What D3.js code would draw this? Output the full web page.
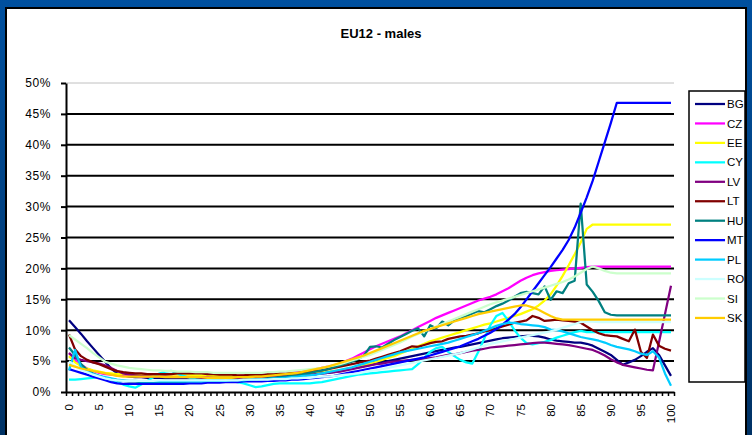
<html>
<head>
<meta charset="utf-8">
<script src="https://cdn.jsdelivr.net/npm/d3@7"></script>
<style>
body { margin: 0; }
text { font-family: "Liberation Sans", Arial, sans-serif; }
</style>
</head>
<body>
<script>

// ages 0..100 on the category axis
var ages = d3.range(0, 101);

var names = ["BG", "CZ", "EE", "CY", "LV", "LT", "HU", "MT", "PL", "RO", "SI", "SK"];
var colors = ["#000080", "#FF00FF", "#FFFF00", "#00FFFF", "#800080", "#800000",
              "#008080", "#0000FF", "#00CCFF", "#CCFFFF", "#CCFFCC", "#FFCC00"];

// values in %, one per age
var bg = [11.6,10.5,9.4,8.2,7.1,6.0,4.9,3.8,3.0,2.7,2.5,
  2.4,2.4,2.3,2.3,2.3,2.2,2.2,2.2,2.2,2.2,
  2.2,2.2,2.2,2.2,2.2,2.3,2.3,2.3,2.3,2.4,
  2.4,2.4,2.5,2.5,2.5,2.6,2.6,2.7,2.7,2.8,
  2.9,3.0,3.1,3.2,3.4,3.6,3.8,4.0,4.2,4.4,
  4.6,4.8,5.0,5.2,5.4,5.6,5.8,6.0,6.2,6.4,
  6.6,6.8,7.0,7.2,7.3,7.5,7.7,7.9,8.1,8.3,
  8.5,8.7,8.8,8.9,9.0,9.1,9.1,9.0,8.8,8.5,
  8.3,8.2,8.1,8.0,8.0,7.8,7.5,7.0,6.5,6.0,
  5.2,4.4,4.8,5.2,5.8,6.5,7.1,6.0,4.3,2.6];

var cz = [6.3,5.2,4.4,3.8,3.4,3.1,2.9,2.8,2.7,2.6,2.6,
  2.6,2.5,2.5,2.5,2.5,2.5,2.5,2.5,2.5,2.5,
  2.5,2.5,2.5,2.5,2.5,2.6,2.6,2.6,2.7,2.7,
  2.8,2.8,2.9,3.0,3.0,3.1,3.2,3.3,3.4,3.5,
  3.7,3.9,4.1,4.3,4.6,5.0,5.4,5.9,6.4,6.9,
  7.4,7.8,8.2,8.6,9.0,9.5,10.0,10.5,11.0,11.5,
  12.0,12.4,12.8,13.2,13.6,14.0,14.4,14.8,15.1,15.4,
  15.8,16.3,16.8,17.4,18.0,18.5,18.9,19.2,19.4,19.6,
  19.7,19.8,19.9,20.0,20.1,20.2,20.3,20.3,20.3,20.3,
  20.3,20.3,20.3,20.3,20.3,20.3,20.3,20.3,20.3,20.3];

var ee = [5.8,4.8,4.2,3.8,3.5,3.3,3.1,3.0,2.9,2.9,2.9,
  2.9,2.9,2.8,2.8,2.8,2.8,2.8,2.8,2.8,2.8,
  2.7,2.7,2.7,2.6,2.6,2.6,2.6,2.6,2.6,2.6,
  2.6,2.6,2.7,2.7,2.7,2.8,2.8,2.9,3.0,3.0,
  3.1,3.2,3.3,3.4,3.5,3.7,3.9,4.1,4.3,4.6,
  4.9,5.2,5.5,5.8,6.2,6.6,7.0,7.4,7.8,8.2,
  8.5,8.8,9.1,9.4,9.7,10.0,10.3,10.6,10.9,11.1,
  11.4,11.7,12.0,12.3,12.6,13.0,13.4,14.0,14.8,15.8,
  17.2,18.8,20.5,22.3,24.2,26.4,27.1,27.1,27.1,27.1,
  27.1,27.1,27.1,27.1,27.1,27.1,27.1,27.1,27.1,27.1];

var cy = [2.0,2.0,2.1,2.2,2.3,2.5,2.3,2.0,1.6,1.2,0.9,
  0.7,1.2,1.8,2.4,3.0,3.3,3.4,3.0,2.6,2.3,
  2.1,2.0,2.0,2.0,1.9,1.8,1.7,1.6,1.4,1.1,
  0.8,0.9,1.1,1.3,1.4,1.4,1.4,1.4,1.4,1.4,
  1.5,1.6,1.8,2.0,2.2,2.4,2.6,2.8,2.9,3.0,
  3.1,3.2,3.3,3.4,3.5,3.6,3.7,4.5,5.5,6.5,
  7.1,7.3,6.5,5.8,5.2,4.8,4.6,6.5,8.7,10.8,
  12.3,12.8,11.5,10.0,8.8,7.9,7.7,7.9,8.1,8.4,
  8.8,9.1,9.4,9.7,9.9,9.7,9.7,9.7,9.7,9.7,
  9.7,9.7,9.7,9.7,9.7,9.7,9.7,9.7,9.7,9.7];

var lv = [6.3,5.5,5.2,5.0,4.8,4.6,4.3,3.9,3.4,3.0,2.8,
  2.7,2.6,2.6,2.5,2.5,2.5,2.4,2.4,2.4,2.4,
  2.4,2.3,2.3,2.3,2.3,2.3,2.3,2.3,2.3,2.4,
  2.4,2.4,2.5,2.5,2.5,2.6,2.6,2.7,2.7,2.8,
  2.9,3.0,3.1,3.2,3.3,3.5,3.7,3.9,4.1,4.3,
  4.5,4.6,4.8,4.9,5.0,5.1,5.2,5.3,5.4,5.5,
  5.6,5.8,6.0,6.1,6.3,6.5,6.7,6.8,7.0,7.2,
  7.3,7.4,7.5,7.6,7.7,7.8,7.9,8.0,8.0,7.9,
  7.8,7.7,7.6,7.4,7.2,7.0,6.8,6.4,5.9,5.3,
  4.8,4.4,4.2,4.0,3.8,3.6,3.5,8.0,12.6,17.2];

var lt = [9.3,6.9,5.8,5.2,4.8,4.5,4.1,3.7,3.4,3.2,3.1,
  3.0,3.0,2.9,2.9,2.9,2.9,2.9,3.0,3.0,3.0,
  3.0,3.0,2.9,2.9,2.8,2.8,2.8,2.7,2.7,2.8,
  2.8,2.8,2.9,2.9,3.0,3.0,3.1,3.1,3.2,3.3,
  3.4,3.5,3.7,3.9,4.1,4.3,4.5,4.7,4.9,5.1,
  5.4,5.7,6.0,6.3,6.6,7.0,7.4,7.3,7.6,7.9,
  8.1,8.2,8.6,8.8,9.0,9.1,9.3,9.5,9.8,10.0,
  10.3,10.6,10.9,11.2,11.4,11.6,12.3,12.0,11.5,11.6,
  11.7,11.6,11.5,11.4,11.2,10.6,10.0,9.5,9.2,9.1,
  9.0,8.6,8.2,10.1,6.5,5.5,9.3,7.5,7.0,6.7];

var hu = [7.2,6.0,4.5,3.6,3.0,2.6,2.3,2.1,1.9,1.8,1.7,
  1.7,1.6,1.6,1.6,1.6,1.6,1.6,1.6,1.6,1.7,
  1.7,1.7,1.7,1.8,1.8,1.8,1.9,1.9,2.0,2.0,
  2.1,2.1,2.2,2.3,2.4,2.5,2.6,2.7,2.9,3.1,
  3.3,3.5,3.7,4.0,4.3,4.6,4.9,5.3,5.9,7.3,
  7.4,7.2,7.8,8.4,8.9,9.4,9.9,10.3,9.0,10.8,
  10.3,11.4,10.8,11.6,12.0,12.3,12.7,13.1,12.9,13.4,
  13.9,14.3,14.8,15.4,16.0,16.2,16.0,15.8,17.1,14.9,
  16.3,16.0,17.6,18.0,30.5,17.4,16.2,14.7,12.9,12.5,
  12.4,12.4,12.4,12.4,12.4,12.4,12.4,12.4,12.4,12.4];

var mt = [3.7,3.4,3.1,2.8,2.5,2.2,1.9,1.6,1.4,1.3,1.3,
  1.3,1.3,1.3,1.3,1.3,1.3,1.3,1.3,1.3,1.4,
  1.4,1.4,1.5,1.5,1.5,1.6,1.6,1.6,1.7,1.7,
  1.7,1.7,1.8,1.8,1.9,1.9,2.0,2.0,2.1,2.2,
  2.3,2.4,2.5,2.6,2.8,3.0,3.2,3.4,3.6,3.8,
  4.0,4.2,4.4,4.6,4.8,5.0,5.2,5.4,5.6,5.9,
  6.2,6.5,6.8,7.1,7.4,7.8,8.2,8.6,9.1,9.6,
  10.2,10.9,11.7,12.6,13.7,15.0,16.3,17.6,18.9,20.2,
  21.6,23.0,24.6,26.6,29.0,31.5,34.2,37.3,40.4,43.5,
  46.8,46.8,46.8,46.8,46.8,46.8,46.8,46.8,46.8,46.8];

var pl = [3.5,6.8,4.0,3.3,2.9,2.6,2.4,2.2,2.0,1.9,1.8,
  1.8,1.7,1.7,1.7,1.7,1.7,1.7,1.7,1.7,1.7,
  1.7,1.7,1.8,1.8,1.8,1.8,1.9,1.9,1.9,2.0,
  2.0,2.1,2.1,2.2,2.2,2.3,2.4,2.5,2.6,2.7,
  2.8,3.0,3.2,3.4,3.6,3.8,4.0,4.3,4.6,4.9,
  5.2,5.5,5.8,6.1,6.4,6.6,6.8,7.0,7.2,7.4,
  7.6,7.8,8.0,8.3,8.6,8.9,9.2,9.5,9.9,10.3,
  10.7,11.0,11.2,11.2,11.0,10.9,10.8,10.7,10.5,10.1,
  10.0,9.8,9.5,9.2,8.9,8.7,8.5,8.3,8.0,7.6,
  7.3,7.1,6.9,6.6,6.2,6.0,6.6,5.6,3.0,1.0];

var ro = [5.0,4.2,3.6,3.2,2.8,2.5,2.2,2.0,1.9,1.8,1.8,
  1.8,1.8,1.8,1.8,1.9,1.9,1.9,1.9,1.9,1.9,
  1.9,1.9,1.9,1.9,1.9,1.9,1.9,1.9,2.0,2.0,
  2.0,2.0,2.0,2.1,2.1,2.1,2.2,2.2,2.3,2.3,
  2.4,2.5,2.5,2.6,2.7,2.8,2.9,3.0,3.2,3.4,
  3.5,3.7,3.9,4.1,4.3,4.5,4.7,4.9,5.1,5.3,
  5.5,5.7,5.9,6.1,6.3,6.6,6.9,7.2,7.5,7.8,
  8.0,8.2,8.4,8.6,8.8,9.0,9.2,9.4,9.6,9.8,
  10.1,10.4,10.7,11.0,11.3,11.4,11.4,11.3,11.3,11.3,
  11.3,11.3,11.3,11.3,11.3,11.3,11.3,11.3,11.3,11.3];

var si = [9.2,8.5,7.8,7.1,6.3,5.6,4.9,4.6,4.3,4.1,3.9,
  3.8,3.7,3.6,3.5,3.5,3.4,3.4,3.3,3.3,3.3,
  3.2,3.2,3.2,3.1,3.1,3.1,3.1,3.1,3.1,3.1,
  3.1,3.1,3.2,3.2,3.3,3.3,3.4,3.5,3.6,3.7,
  3.8,3.9,4.1,4.3,4.5,4.8,5.1,5.4,5.7,6.0,
  6.4,6.8,7.2,7.6,8.0,8.5,9.0,9.4,9.8,10.2,
  10.6,11.0,11.4,11.8,12.2,12.6,13.0,13.4,13.8,14.2,
  14.5,14.8,15.1,15.4,15.7,16.0,16.3,16.6,16.9,17.2,
  17.5,17.8,18.2,18.7,19.3,19.9,20.3,20.0,19.6,19.3,
  19.2,19.2,19.2,19.2,19.2,19.2,19.2,19.2,19.2,19.2];

var sk = [4.4,4.1,3.8,3.6,3.4,3.2,3.0,2.8,2.6,2.5,2.5,
  2.5,2.5,2.5,2.5,2.5,2.4,2.4,2.4,2.4,2.4,
  2.4,2.4,2.3,2.3,2.3,2.3,2.3,2.4,2.4,2.4,
  2.5,2.5,2.6,2.7,2.8,2.9,3.0,3.1,3.3,3.5,
  3.7,3.9,4.1,4.4,4.7,5.0,5.3,5.6,5.9,6.3,
  6.7,7.1,7.5,7.9,8.3,8.7,9.1,9.5,9.9,10.2,
  10.5,10.8,11.1,11.4,11.7,12.0,12.3,12.6,12.8,13.0,
  13.2,13.4,13.6,13.8,14.0,14.0,13.7,13.3,12.8,12.3,
  11.9,11.7,11.7,11.7,11.7,11.7,11.7,11.7,11.7,11.7,
  11.7,11.7,11.7,11.7,11.7,11.7,11.7,11.7,11.7,11.7];

var series = [bg, cz, ee, cy, lv, lt, hu, mt, pl, ro, si, sk];

var yTicks = [0, 0.05, 0.1, 0.15, 0.2, 0.25, 0.3, 0.35, 0.4, 0.45, 0.5];

var width = 752,
    height = 435,
    plot = {left: 66, right: 674, top: 83, bottom: 392};

var svg = d3.select('body')
  .append('svg')
  .attr('width', width)
  .attr('height', height);

// blue frame behind the white chart panel
var grad = svg.append('defs').append('linearGradient')
  .attr('id', 'bluebg')
  .attr('x1', 0).attr('y1', 0).attr('x2', 0).attr('y2', 1);
grad.append('stop').attr('offset', '0%').attr('stop-color', '#00509f');
grad.append('stop').attr('offset', '100%').attr('stop-color', '#003265');

svg.append('rect')
  .attr('width', width)
  .attr('height', height)
  .attr('fill', 'url(#bluebg)');

svg.append('rect')
  .attr('x', 6)
  .attr('y', 8)
  .attr('width', 740)
  .attr('height', 440)
  .attr('fill', 'white')
  .attr('stroke', 'black')
  .attr('stroke-width', 2);

svg.append('text')
  .attr('x', 381)
  .attr('y', 38)
  .attr('text-anchor', 'middle')
  .attr('font-size', 13)
  .attr('font-weight', 'bold')
  .text('EU12 - males');

var x = d3.scaleBand().domain(ages).range([plot.left, plot.right]);
var xEdge = d3.scaleLinear().domain([0, ages.length]).range([plot.left, plot.right]);
var y = d3.scaleLinear().domain([0, 0.5]).range([plot.bottom, plot.top]);

// gridlines
svg.append('g')
  .selectAll('line')
  .data(yTicks.filter(function(d) { return d > 0; }))
  .enter()
  .append('line')
  .attr('x1', plot.left)
  .attr('x2', plot.right)
  .attr('y1', function(d) { return y(d); })
  .attr('y2', function(d) { return y(d); })
  .attr('stroke', function(d) { return d === 0.5 ? '#c0c0c0' : 'black'; })
  .attr('stroke-width', function(d) { return d === 0.5 ? 1 : 2; });

// y axis
var yAxis = svg.append('g')
  .attr('transform', 'translate(' + plot.left + ',0)')
  .call(d3.axisLeft(y).tickValues(yTicks).tickFormat(d3.format('.0%'))
    .tickSize(5).tickSizeOuter(0).tickPadding(10));
yAxis.select('.domain').attr('stroke-width', 2);
yAxis.selectAll('line').attr('stroke-width', 2);
yAxis.selectAll('text')
  .attr('font-size', 12)
  .attr('letter-spacing', 0.6)
  .attr('fill', 'black')
  .attr('font-family', '"Liberation Sans", Arial, sans-serif');

// series lines
var line = d3.line()
  .x(function(d, i) { return x(ages[i]) + x.bandwidth() / 2; })
  .y(function(d) { return y(d / 100); });

svg.append('g')
  .selectAll('path')
  .data(series)
  .enter()
  .append('path')
  .attr('d', line)
  .attr('fill', 'none')
  .attr('stroke', function(d, i) { return colors[i]; })
  .attr('stroke-width', 2.25)
  .attr('stroke-linejoin', 'round');

// x axis: tick marks between categories, labels every 5 years
var xTicks = svg.append('g')
  .attr('transform', 'translate(0,' + plot.bottom + ')')
  .call(d3.axisBottom(xEdge).tickValues(d3.range(0, ages.length + 1)).tickFormat('').tickSize(4).tickSizeOuter(0));
xTicks.select('.domain').attr('stroke-width', 2);
xTicks.selectAll('line').attr('stroke-width', 1.5);

var xLabels = svg.append('g')
  .attr('transform', 'translate(0,' + plot.bottom + ')')
  .call(d3.axisBottom(x).tickValues(ages.filter(function(d) { return d % 5 === 0; })).tickSize(0));
xLabels.select('.domain').remove();
xLabels.selectAll('text')
  .attr('font-size', 11.5)
  .attr('fill', 'black')
  .attr('font-family', '"Liberation Sans", Arial, sans-serif')
  .attr('transform', 'rotate(-90)')
  .attr('text-anchor', 'end')
  .attr('x', -12)
  .attr('y', 0)
  .attr('dy', '0.35em');

// legend
var legend = svg.append('g');
legend.append('rect')
  .attr('x', 689)
  .attr('y', 91)
  .attr('width', 56)
  .attr('height', 291)
  .attr('fill', 'white')
  .attr('stroke', 'black')
  .attr('stroke-width', 1.5);

var items = legend.selectAll('g.item')
  .data(names)
  .enter()
  .append('g')
  .attr('class', 'item')
  .attr('transform', function(d, i) { return 'translate(0,' + (104 + i * 19.45) + ')'; });

items.append('line')
  .attr('x1', 695)
  .attr('x2', 725)
  .attr('stroke', function(d, i) { return colors[i]; })
  .attr('stroke-width', 2.25);

items.append('text')
  .attr('x', 727)
  .attr('dy', '0.36em')
  .attr('font-size', 11.5)
  .text(function(d) { return d; });

</script>
</body>
</html>
